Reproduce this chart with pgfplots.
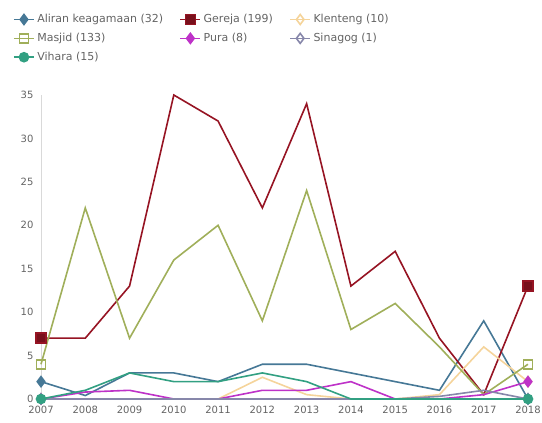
\documentclass[border=0pt]{standalone}
\usepackage{pgfplots}
\pgfplotsset{compat=1.18}
\usepackage{fontspec}
\setmainfont{DejaVu Sans}
\definecolor{aliran}{RGB}{70,120,150}
\definecolor{gereja}{RGB}{150,20,35}
\definecolor{klenteng}{RGB}{245,212,155}
\definecolor{masjid}{RGB}{160,175,90}
\definecolor{pura}{RGB}{190,50,200}
\definecolor{sinagog}{RGB}{135,135,170}
\definecolor{vihara}{RGB}{50,160,130}
\definecolor{ticktext}{RGB}{100,100,100}

\begin{document}
\begin{tikzpicture}[x=1pt,y=1pt]
  \path[use as bounding box] (0,0) rectangle (542,423);
  \begin{axis}[
    at={(41pt,24pt)}, anchor=south west,
    scale only axis,
    width=487pt, height=304pt,
    xmin=0, xmax=11, ymin=0, ymax=35,
    xtick={0,...,11},
    xticklabels={2007,2008,2009,2010,2011,2012,2013,2014,2015,2016,2017,2018},
    ytick={0,5,...,35},
    axis lines=left,
    x axis line style={black, -, line width=1.2pt},
    y axis line style={black!15, -},
    major tick length=0pt,
    tick label style={font=\fontsize{10}{12}\selectfont, text=ticktext},
    /pgf/number format/assume math mode=true,
    xticklabel style={yshift=-4pt},
    yticklabel style={xshift=-4pt},
    clip=false,
    every axis plot/.append style={line width=1.6pt, mark indices={1,12}},
    legend columns=3,
    legend cell align={left},
    legend style={
      at={(-0.0637,1.28)}, anchor=north west,
      draw=none, fill=none,
      font=\fontsize{11}{13}\selectfont,
      text=ticktext,
      row sep=4pt,
      nodes={inner sep=2.5pt},
      /tikz/every even column/.append style={column sep=14pt},
    },
    legend image code/.code={
      \draw[#1, mark indices={2}] plot coordinates {(0pt,0pt) (10pt,0pt) (20pt,0pt)};
    },
  ]
    \addplot[color=aliran, mark=diamond*, mark size=5pt] coordinates {
      (0,2) (1,0.4) (2,3) (3,3) (4,2) (5,4) (6,4) (7,3) (8,2) (9,1) (10,9) (11,0)
    };
    \addlegendentry{Aliran keagamaan (32)}
    \addplot[color=gereja, mark=square*, mark size=5pt, mark options={fill=gereja!80!black}] coordinates {
      (0,7) (1,7) (2,13) (3,35) (4,32) (5,22) (6,34) (7,13) (8,17) (9,7) (10,0.5) (11,13)
    };
    \addlegendentry{Gereja (199)}
    \addplot[color=klenteng, mark=diamond, mark size=5pt] coordinates {
      (0,0) (1,0) (2,0) (3,0) (4,0) (5,2.5) (6,0.5) (7,0) (8,0) (9,0.5) (10,6) (11,2)
    };
    \addlegendentry{Klenteng (10)}
    \addplot[color=masjid, mark=square, mark size=4.5pt] coordinates {
      (0,4) (1,22) (2,7) (3,16) (4,20) (5,9) (6,24) (7,8) (8,11) (9,6) (10,0.5) (11,4)
    };
    \addlegendentry{Masjid (133)}
    \addplot[color=pura, mark=diamond*, mark size=5pt] coordinates {
      (0,0) (1,0.8) (2,1) (3,0) (4,0) (5,1) (6,1) (7,2) (8,0) (9,0) (10,0.5) (11,2)
    };
    \addlegendentry{Pura (8)}
    \addplot[color=sinagog, mark=diamond, mark size=5pt] coordinates {
      (0,0) (1,0) (2,0) (3,0) (4,0) (5,0) (6,0) (7,0) (8,0) (9,0.3) (10,1) (11,0)
    };
    \addlegendentry{Sinagog (1)}
    \addplot[color=vihara, mark=*, mark size=4.5pt] coordinates {
      (0,0) (1,1) (2,3) (3,2) (4,2) (5,3) (6,2) (7,0) (8,0) (9,0) (10,0) (11,0)
    };
    \addlegendentry{Vihara (15)}
  \end{axis}
\end{tikzpicture}
\end{document}
